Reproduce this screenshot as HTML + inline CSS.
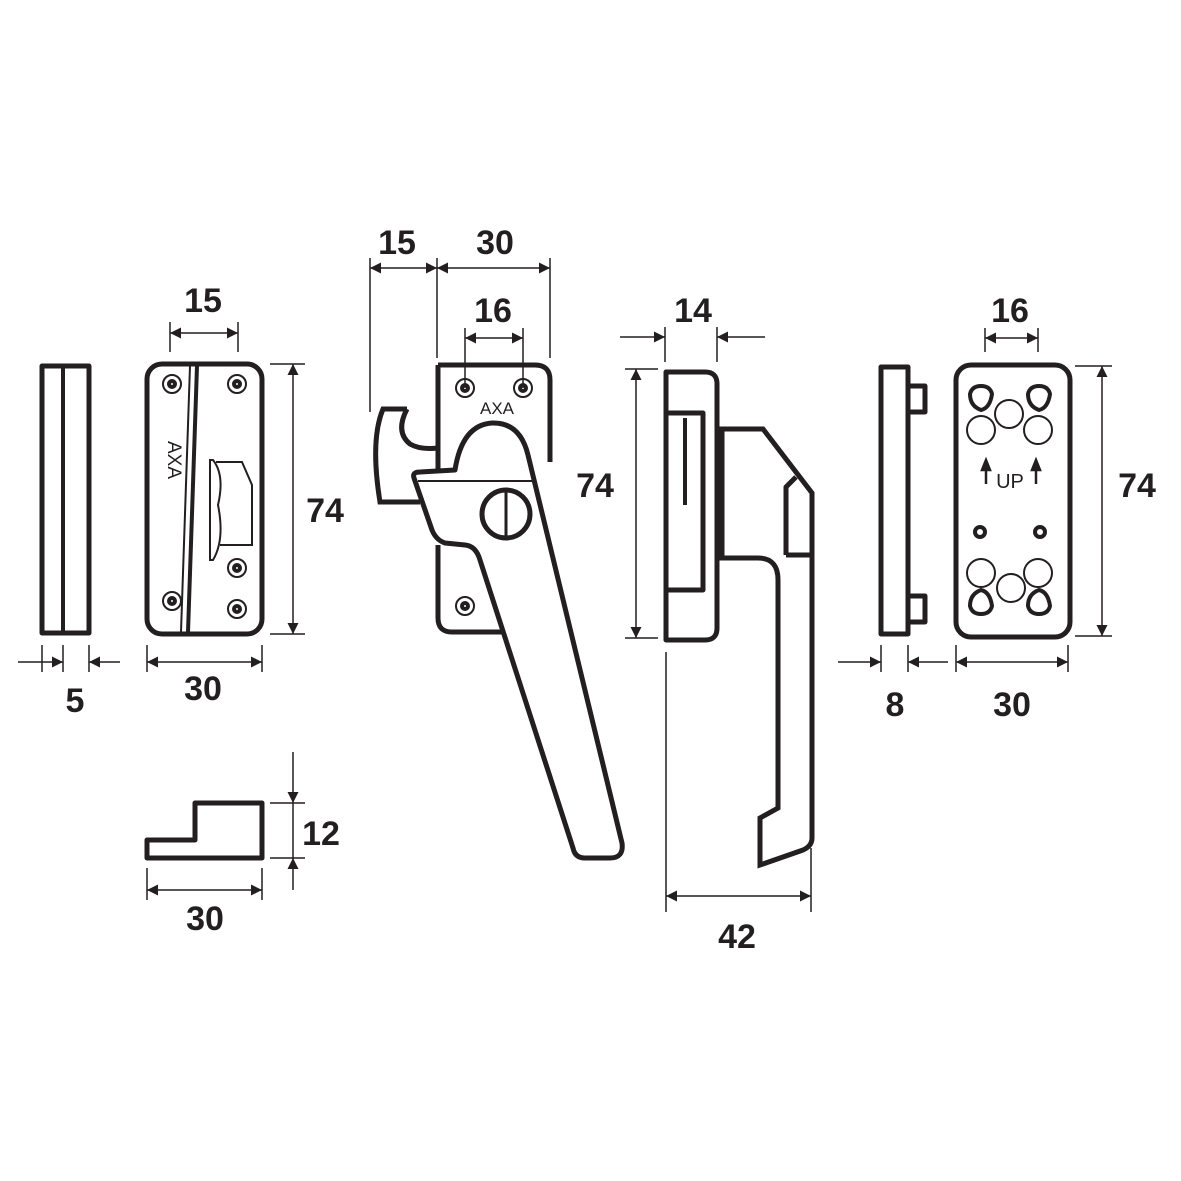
<!DOCTYPE html>
<html><head><style>
html,body{margin:0;padding:0;background:#fff;}
svg{display:block;}
text{font-family:"Liberation Sans",sans-serif;font-weight:bold;fill:#231f20;}
</style></head><body>
<svg width="1181" height="1181" viewBox="0 0 1181 1181" xmlns="http://www.w3.org/2000/svg">
<defs>
<marker id="a" viewBox="0 0 10 10" refX="10" refY="5" markerWidth="18" markerHeight="11" markerUnits="userSpaceOnUse" orient="auto-start-reverse"><path d="M0,0 L10,5 L0,10 z" fill="#231f20"/></marker>
</defs>
<g stroke="#231f20" fill="none">
<g stroke-width="1.5">
<line x1="42" y1="645" x2="42" y2="672"/><line x1="63" y1="645" x2="63" y2="672"/><line x1="89" y1="645" x2="89" y2="672"/>
<line x1="18" y1="662" x2="63" y2="662" marker-end="url(#a)"/><line x1="120" y1="662" x2="89" y2="662" marker-end="url(#a)"/>
<line x1="147" y1="645" x2="147" y2="672"/><line x1="262" y1="645" x2="262" y2="672"/>
<line x1="147" y1="662" x2="262" y2="662" marker-start="url(#a)" marker-end="url(#a)"/>
<line x1="170" y1="322" x2="170" y2="352"/><line x1="238" y1="322" x2="238" y2="352"/>
<line x1="170" y1="333" x2="238" y2="333" marker-start="url(#a)" marker-end="url(#a)"/>
<line x1="270" y1="364" x2="305" y2="364"/><line x1="270" y1="634" x2="305" y2="634"/>
<line x1="293" y1="364" x2="293" y2="634" marker-start="url(#a)" marker-end="url(#a)"/>
<line x1="270" y1="803" x2="305" y2="803"/><line x1="270" y1="858" x2="305" y2="858"/>
<line x1="293" y1="752" x2="293" y2="803" marker-end="url(#a)"/><line x1="293" y1="890" x2="293" y2="858" marker-end="url(#a)"/>
<line x1="293" y1="803" x2="293" y2="858"/>
<line x1="147" y1="868" x2="147" y2="900"/><line x1="262" y1="868" x2="262" y2="900"/>
<line x1="147" y1="890" x2="262" y2="890" marker-start="url(#a)" marker-end="url(#a)"/>
<line x1="370" y1="258" x2="370" y2="412"/><line x1="437" y1="258" x2="437" y2="358"/><line x1="550" y1="258" x2="550" y2="358"/>
<line x1="370" y1="268" x2="437" y2="268" marker-start="url(#a)" marker-end="url(#a)"/>
<line x1="437" y1="268" x2="550" y2="268" marker-start="url(#a)" marker-end="url(#a)"/>
<line x1="465" y1="328" x2="465" y2="388"/><line x1="523" y1="328" x2="523" y2="388"/>
<line x1="465" y1="338" x2="523" y2="338" marker-start="url(#a)" marker-end="url(#a)"/>
<line x1="665" y1="327" x2="665" y2="362"/><line x1="717" y1="327" x2="717" y2="362"/>
<line x1="620" y1="337" x2="665" y2="337" marker-end="url(#a)"/><line x1="765" y1="337" x2="717" y2="337" marker-end="url(#a)"/>
<line x1="625" y1="369" x2="658" y2="369"/><line x1="625" y1="638" x2="658" y2="638"/>
<line x1="636" y1="369" x2="636" y2="638" marker-start="url(#a)" marker-end="url(#a)"/>
<line x1="666" y1="652" x2="666" y2="912"/><line x1="811" y1="848" x2="811" y2="912"/>
<line x1="666" y1="896" x2="811" y2="896" marker-start="url(#a)" marker-end="url(#a)"/>
<line x1="985" y1="328" x2="985" y2="352"/><line x1="1038" y1="328" x2="1038" y2="352"/>
<line x1="985" y1="338" x2="1038" y2="338" marker-start="url(#a)" marker-end="url(#a)"/>
<line x1="1075" y1="366" x2="1112" y2="366"/><line x1="1075" y1="636" x2="1112" y2="636"/>
<line x1="1102" y1="366" x2="1102" y2="636" marker-start="url(#a)" marker-end="url(#a)"/>
<line x1="881" y1="645" x2="881" y2="672"/><line x1="908" y1="645" x2="908" y2="672"/>
<line x1="838" y1="662" x2="881" y2="662" marker-end="url(#a)"/><line x1="948" y1="662" x2="908" y2="662" marker-end="url(#a)"/>
<line x1="956" y1="645" x2="956" y2="672"/><line x1="1068" y1="645" x2="1068" y2="672"/>
<line x1="956" y1="662" x2="1068" y2="662" marker-start="url(#a)" marker-end="url(#a)"/>
</g>
<g stroke-width="5" stroke-linejoin="round">
<rect x="42" y="366" width="47" height="267"/>
<line x1="63" y1="366" x2="63" y2="633" stroke-width="4"/>
<rect x="147" y="364" width="115" height="270" rx="15"/>
<line x1="197" y1="366" x2="188" y2="632" stroke-width="4"/>
<path d="M147,858 L147,840 L195,840 L195,803 L262,803 L262,858 Z"/>
<path d="M438,365 L535,365 Q550,365 550,380 L550,462 M505,632 L452,632 Q438,632 438,618 L438,545 M438,472 L438,365"/>
<path d="M407,409 L383,409 Q370,440 380,502 L420,502" stroke-linejoin="miter"/>
<path d="M407,409 Q395,432 410,444 Q420,450 438,448"/>
<path d="M414,478 Q412,472 420,472 L455,470 Q462,425 492,423 Q520,422 528,455 L622,843 Q624,858 610,858 L585,858 Q575,858 573,848 L480,560 Q476,546 465,545 L445,543 Q436,540 432,530 Z" fill="#fff"/>
<circle cx="506" cy="514" r="24"/>
<line x1="506" y1="490" x2="506" y2="538" stroke-width="3"/>
<path d="M666,372 L705,372 Q717,372 717,384 L717,628 Q717,640 705,640 L666,640 Z"/>
<path d="M666,413 L703,413 L703,590 L666,590"/>
<path d="M685,418 L685,505" stroke-width="4"/>
<path d="M722,429 L763,429 L812,493 L812,838 Q812,846 803,850 L760,865 L760,818 L778,808 L778,580 Q778,558 758,558 L722,558 Z" stroke-linejoin="miter"/>
<path d="M786,555 L786,487 L796,477 M786,555 L812,555"/>
<rect x="881" y="367" width="27" height="267"/>
<path d="M908,386 L925,386 L925,412 L908,412 M908,596 L925,596 L925,622 L908,622"/>
<rect x="956" y="365" width="114" height="272" rx="15"/>
</g>
<g stroke-width="2">
<line x1="190" y1="366" x2="181" y2="632"/>
<line x1="418" y1="481" x2="532" y2="481"/>
<circle cx="172" cy="384" r="9"/><circle cx="237" cy="384" r="9"/><circle cx="172" cy="601" r="9"/><circle cx="237" cy="609" r="9"/><circle cx="237" cy="568" r="9"/>
<circle cx="465" cy="388" r="9"/><circle cx="523" cy="388" r="9"/><circle cx="465" cy="606" r="9"/>
<circle cx="1009" cy="414" r="14"/><circle cx="981" cy="430" r="14"/><circle cx="1038" cy="430" r="14"/>
<circle cx="981" cy="573" r="14"/><circle cx="1038" cy="573" r="14"/><circle cx="1011" cy="588" r="14"/>
<path d="M210,460 L213,460 Q225,475 218,505 Q225,540 213,560 L210,560 Z M216,462 L242,462 L252,485 L252,545 L220,545"/>
</g>
<g stroke-width="4">
<circle cx="172" cy="384" r="3"/><circle cx="237" cy="384" r="3"/><circle cx="172" cy="601" r="3"/><circle cx="237" cy="609" r="3"/><circle cx="237" cy="568" r="3"/>
<circle cx="465" cy="388" r="3"/><circle cx="523" cy="388" r="3"/><circle cx="465" cy="606" r="3"/>
<circle cx="980" cy="532" r="5"/><circle cx="1040" cy="532" r="5"/>
<path d="M970,394 Q972,386 981,386 Q990,386 992,394 Q990,408 981,410 Q970,406 970,394 Z M1028,394 Q1030,386 1039,386 Q1048,386 1050,394 Q1048,408 1039,410 Q1028,406 1028,394 Z M970,606 Q972,614 981,614 Q990,614 992,606 Q990,592 981,590 Q970,594 970,606 Z M1028,606 Q1030,614 1039,614 Q1048,614 1050,606 Q1048,592 1039,590 Q1028,594 1028,606 Z"/>
</g>
</g>
<text x="75" y="712" font-size="34" text-anchor="middle">5</text>
<text x="203" y="700" font-size="34" text-anchor="middle">30</text>
<text x="203" y="312" font-size="34" text-anchor="middle">15</text>
<text x="325" y="522" font-size="34" text-anchor="middle">74</text>
<text x="321" y="845" font-size="34" text-anchor="middle">12</text>
<text x="205" y="930" font-size="34" text-anchor="middle">30</text>
<text x="397" y="254" font-size="34" text-anchor="middle">15</text>
<text x="495" y="254" font-size="34" text-anchor="middle">30</text>
<text x="493" y="322" font-size="34" text-anchor="middle">16</text>
<text x="595" y="497" font-size="34" text-anchor="middle">74</text>
<text x="693" y="322" font-size="34" text-anchor="middle">14</text>
<text x="737" y="948" font-size="34" text-anchor="middle">42</text>
<text x="1010" y="322" font-size="34" text-anchor="middle">16</text>
<text x="1137" y="497" font-size="34" text-anchor="middle">74</text>
<text x="895" y="716" font-size="34" text-anchor="middle">8</text>
<text x="1012" y="716" font-size="34" text-anchor="middle">30</text>
<text x="497" y="414" font-size="17" text-anchor="middle" style="font-weight:normal">AXA</text>
<text x="0" y="0" font-size="19" text-anchor="middle" style="font-weight:normal" transform="translate(168,460) rotate(90)">AXA</text>
<text x="1010" y="488" font-size="20" text-anchor="middle" style="font-weight:normal">UP</text>
<path d="M986,484 L986,470 M982,470 L986,460 L990,470 Z M1036,484 L1036,470 M1032,470 L1036,460 L1040,470 Z" stroke="#231f20" stroke-width="2.5" fill="#231f20"/>
</svg>
</body></html>
